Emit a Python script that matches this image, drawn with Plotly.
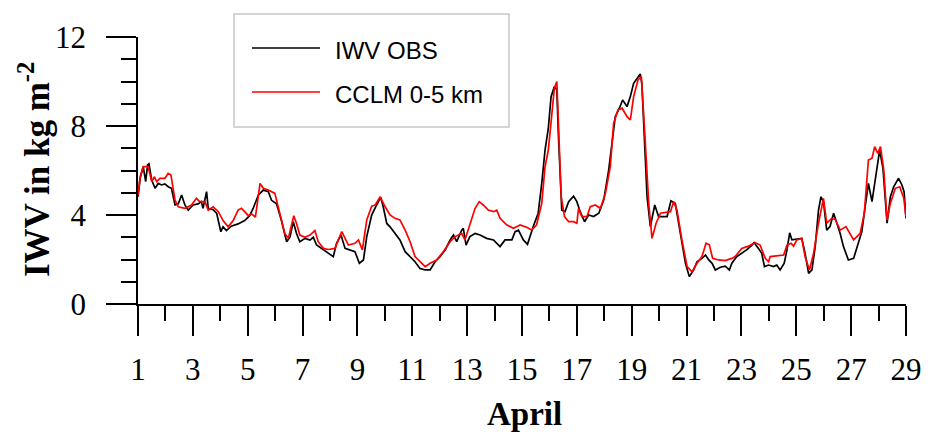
import plotly.graph_objects as go

# ---- data ----
obs_day = [1.0, 1.08, 1.19, 1.28, 1.35, 1.4, 1.5, 1.62, 1.74, 1.86, 1.98, 2.1, 2.22, 2.35, 2.47, 2.59, 2.71, 2.83,
           3.01, 3.19, 3.31, 3.37, 3.5, 3.56, 3.74, 3.87, 4.02, 4.1, 4.22, 4.4, 4.65, 4.89, 5.07, 5.19, 5.39, 5.57,
           5.75, 5.87, 6.05, 6.23, 6.42, 6.54, 6.66, 6.78, 6.9, 7.09, 7.27, 7.39, 7.51, 7.7, 7.88, 8.0, 8.12, 8.24,
           8.4, 8.55, 8.73, 8.91, 9.07, 9.22, 9.34, 9.52, 9.7, 9.85, 9.94, 10.07, 10.19, 10.37, 10.55, 10.74, 10.92,
           11.1, 11.28, 11.47, 11.65, 11.83, 12.01, 12.2, 12.38, 12.5, 12.62, 12.8, 12.86, 12.96, 13.1, 13.29, 13.47,
           13.71, 13.96, 14.2, 14.38, 14.63, 14.75, 14.87, 15.05, 15.2, 15.41, 15.59, 15.72, 15.84, 15.96, 16.06,
           16.18, 16.27, 16.33, 16.45, 16.57, 16.7, 16.88, 17.0, 17.12, 17.28, 17.43, 17.61, 17.8, 17.98, 18.16,
           18.28, 18.4, 18.55, 18.67, 18.83, 18.95, 19.07, 19.19, 19.31, 19.37, 19.47, 19.56, 19.68, 19.84, 19.98,
           20.17, 20.29, 20.43, 20.59, 20.71, 20.83, 20.96, 21.1, 21.26, 21.38, 21.56, 21.69, 21.81, 21.93, 22.05,
           22.23, 22.41, 22.56, 22.65, 22.83, 23.01, 23.19, 23.38, 23.46, 23.62, 23.74, 23.84, 23.99, 24.17, 24.29,
           24.41, 24.56, 24.66, 24.76, 24.84, 25.02, 25.2, 25.32, 25.45, 25.57, 25.69, 25.81, 25.9, 25.99, 26.11,
           26.23, 26.36, 26.48, 26.6, 26.72, 26.9, 27.09, 27.27, 27.39, 27.51, 27.63, 27.76, 27.88, 28.04, 28.16,
           28.25, 28.31, 28.43, 28.55, 28.73, 28.85, 28.93, 29.0]
obs_iwv = [4.82, 5.66, 6.17, 5.5, 6.25, 6.3, 5.57, 5.2, 5.42, 5.35, 5.4, 5.27, 5.2, 4.45, 4.5, 4.9, 4.45, 4.22,
           4.45, 4.5, 4.6, 4.3, 5.05, 4.3, 4.24, 4.07, 3.25, 3.47, 3.3, 3.5, 3.6, 3.75, 3.97, 4.27, 4.9, 5.12,
           5.05, 4.66, 4.5, 3.75, 2.8, 3.0, 3.7, 3.17, 2.8, 2.95, 2.87, 3.0, 2.65, 2.5, 2.35, 2.25, 2.13, 2.73,
           3.1, 2.5, 2.43, 2.35, 1.83, 1.98, 3.03, 4.0, 4.45, 4.79, 4.37, 3.62, 3.47, 3.17, 2.88, 2.35, 2.13,
           1.9, 1.6, 1.53, 1.53, 1.9, 2.13, 2.43, 2.88, 3.1, 2.8, 3.32, 3.4, 2.65, 3.03, 3.17, 3.1,
           2.95, 2.88, 2.58, 2.88, 2.88, 3.25, 3.32, 2.88, 2.68, 3.48, 4.08, 5.42, 6.92, 7.9, 9.32,
           9.77, 9.62, 7.52, 4.22, 4.15, 4.6, 4.85, 4.6, 4.15, 3.7, 4.0, 3.93, 4.08, 4.67, 6.02,
           7.22, 8.42, 8.8, 9.17, 8.87, 9.32, 9.92, 10.15, 10.34, 9.92, 7.52, 4.82, 3.48, 4.45, 3.93,
           3.93, 3.93, 4.64, 4.52, 3.63, 2.73, 1.83, 1.23, 1.53, 1.9, 2.05, 2.2, 1.98, 1.83, 1.53,
           1.65, 1.7, 1.53, 1.83, 2.13, 2.28, 2.43, 2.65, 2.76, 2.5, 2.28, 1.68, 1.75, 1.68, 1.75,
           1.53, 1.83, 2.43, 3.2, 2.88, 2.9, 2.95, 2.28, 1.38, 1.53, 2.58, 4.22, 4.82, 4.6, 3.32,
           3.48, 4.08, 3.63, 3.17, 2.58, 1.98, 2.05, 2.73, 3.25, 4.37, 5.42, 4.6, 5.57, 6.92, 6.1,
           4.82, 3.63, 4.82, 5.27, 5.65, 5.35, 5.05, 3.85]

cclm_day = [1.0, 1.08, 1.19, 1.37, 1.5, 1.6, 1.68, 1.8, 1.98, 2.1, 2.2, 2.35, 2.47, 2.71, 2.95, 3.13, 3.25, 3.44,
            3.56, 3.74, 3.93, 4.1, 4.29, 4.47, 4.65, 4.77, 4.89, 5.02, 5.14, 5.28, 5.45, 5.57, 5.75, 5.99, 6.11,
            6.23, 6.35, 6.48, 6.6, 6.68, 6.78, 6.9, 7.09, 7.27, 7.45, 7.57, 7.76, 7.94, 8.18, 8.43, 8.67, 8.91,
            9.04, 9.18, 9.34, 9.52, 9.65, 9.83, 10.01, 10.19, 10.37, 10.55, 10.74, 10.92, 11.1, 11.28, 11.47,
            11.65, 11.89, 12.13, 12.38, 12.56, 12.68, 12.8, 12.92, 13.1, 13.29, 13.44, 13.59, 13.77, 13.96, 14.08,
            14.2, 14.45, 14.69, 14.93, 15.17, 15.35, 15.53, 15.72, 15.84, 15.96, 16.06, 16.18, 16.27, 16.33, 16.43,
            16.55, 16.7, 16.88, 17.0, 17.06, 17.18, 17.37, 17.49, 17.67, 17.86, 18.04, 18.22, 18.34, 18.5, 18.65,
            18.83, 18.95, 19.07, 19.23, 19.35, 19.47, 19.62, 19.74, 19.89, 20.05, 20.23, 20.41, 20.53, 20.65,
            20.83, 21.02, 21.2, 21.38, 21.56, 21.71, 21.83, 21.95, 22.17, 22.41, 22.65, 22.77, 23.01, 23.26, 23.5,
            23.68, 23.87, 23.99, 24.05, 24.29, 24.54, 24.66, 24.81, 24.9, 25.02, 25.2, 25.32, 25.48, 25.63, 25.81,
            25.99, 26.11, 26.29, 26.42, 26.6, 26.81, 27.09, 27.33, 27.48, 27.63, 27.76, 27.86, 27.97, 28.07, 28.19,
            28.31, 28.43, 28.61, 28.77, 28.92, 29.0]
cclm_iwv = [4.9, 5.72, 6.17, 6.17, 5.5, 5.72, 5.5, 5.65, 5.65, 5.87, 5.8, 4.67, 4.37, 4.3, 4.45, 4.75, 4.6, 4.6,
            4.22, 4.37, 4.15, 3.75, 3.47, 3.75, 4.22, 4.3, 4.15, 3.97, 4.05, 3.9, 5.42, 5.2, 5.12, 4.97, 4.37,
            3.75, 3.17, 2.95, 3.62, 3.97, 3.62, 3.1, 3.0, 3.1, 3.3, 2.8, 2.5, 2.45, 2.5, 3.25, 2.65, 2.73,
            2.88, 2.43, 3.78, 4.4, 4.45, 4.82, 4.37, 4.0, 3.85, 3.78, 3.32, 2.8, 2.13, 1.9, 1.68,
            1.83, 1.98, 2.35, 2.8, 3.03, 3.1, 3.17, 2.88, 3.62, 4.3, 4.6, 4.45, 4.22, 4.15, 4.22,
            3.85, 3.55, 3.4, 3.55, 3.45, 3.33, 3.55, 4.52, 6.17, 6.92, 8.27, 9.7, 10.0, 8.27, 4.82,
            3.93, 3.7, 3.7, 3.63, 4.3, 3.93, 3.93, 4.37, 4.45, 4.3, 4.97, 6.17, 8.12, 8.72, 8.8,
            8.42, 8.27, 9.32, 10.07, 10.22, 7.82, 4.52, 2.95, 3.63, 4.08, 4.1, 4.15, 4.6, 4.22,
            2.88, 1.68, 1.45, 1.83, 2.13, 2.73, 2.66, 2.05, 1.98, 1.95, 2.05, 2.13, 2.5, 2.6, 2.76,
            2.65, 2.05, 1.9, 2.13, 2.16, 2.2, 2.65, 2.73, 2.6, 2.88, 2.95, 2.13, 1.53, 2.28, 3.63,
            4.75, 3.63, 3.85, 3.8, 3.32, 3.48, 2.88, 3.17, 4.08, 6.47, 6.55, 7.07, 6.77, 7.07, 6.02,
            3.78, 4.52, 5.2, 5.27, 4.75, 3.93]

x_ticks = list(range(1, 30, 2))
y_ticks = [0, 4, 8, 12]
legend_names = ["IWV OBS", "CCLM 0-5 km"]
x_title = "April"
y_title = "IWV in kg m<sup>-2</sup>"

# ---- figure ----
W, H = 931, 434
L, R, T, B = 138, 25, 37, 130
pw, ph = W - L - R, H - T - B

def px2x(px):
    return (px - L) / pw

def py2y(py):
    return (H - B - py) / ph

serif = "Liberation Serif"
fig = go.Figure()
fig.add_trace(go.Scatter(x=obs_day, y=obs_iwv, mode="lines", name=legend_names[0],
                         line=dict(color="#000000", width=1.7), showlegend=False))
fig.add_trace(go.Scatter(x=cclm_day, y=cclm_iwv, mode="lines", name=legend_names[1],
                         line=dict(color="#ff0000", width=1.7), showlegend=False))

axis_common = dict(showgrid=False, zeroline=False, showline=True, linecolor="black", linewidth=1.5,
                   ticks="outside", ticklen=30, tickwidth=1.5, tickcolor="black",
                   tickfont=dict(family=serif, size=31, color="black"))

fig.update_xaxes(range=[1, 29], tickmode="array", tickvals=x_ticks, ticktext=[str(v) for v in x_ticks],
                 minor=dict(dtick=1, tick0=1, ticks="outside", ticklen=15, tickwidth=1.5, tickcolor="black"),
                 ticklabelstandoff=7, **axis_common)
fig.update_yaxes(range=[0, 12], tickmode="array", tickvals=y_ticks, ticktext=[str(v) for v in y_ticks],
                 minor=dict(dtick=1, tick0=0, ticks="outside", ticklen=15, tickwidth=1.5, tickcolor="black"),
                 ticklabelstandoff=14, **axis_common)

# legend drawn as a box with sample lines and labels
box = dict(x0=234, x1=509, y0=14, y1=127)
fig.add_shape(type="rect", xref="paper", yref="paper",
              x0=px2x(box["x0"]), x1=px2x(box["x1"]), y0=py2y(box["y1"]), y1=py2y(box["y0"]),
              line=dict(color="#c8c8c8", width=1.5), fillcolor="white", layer="above")
for name, color, py in [(legend_names[0], "#000000", 48), (legend_names[1], "#ff0000", 92)]:
    fig.add_shape(type="line", xref="paper", yref="paper", x0=px2x(252), x1=px2x(320),
                  y0=py2y(py), y1=py2y(py), line=dict(color=color, width=1.5), layer="above")
    fig.add_annotation(xref="paper", yref="paper", x=px2x(333), y=py2y(py + 2), text=name,
                       showarrow=False, xanchor="left", yanchor="middle",
                       font=dict(family="Liberation Sans", size=24, color="black"))

fig.add_annotation(xref="paper", yref="paper", x=px2x(34), y=py2y(170), text=y_title, textangle=-90,
                   showarrow=False, xanchor="center", yanchor="middle",
                   font=dict(family=serif, size=35, color="black", weight="bold"))
fig.add_annotation(xref="paper", yref="paper", x=px2x(524), y=py2y(414), text=x_title,
                   showarrow=False, xanchor="center", yanchor="middle",
                   font=dict(family=serif, size=33, color="black", weight="bold"))

fig.update_layout(width=W, height=H, margin=dict(l=L, r=R, t=T, b=B, autoexpand=False),
                  paper_bgcolor="white", plot_bgcolor="white")

fig.write_html("out.html")
